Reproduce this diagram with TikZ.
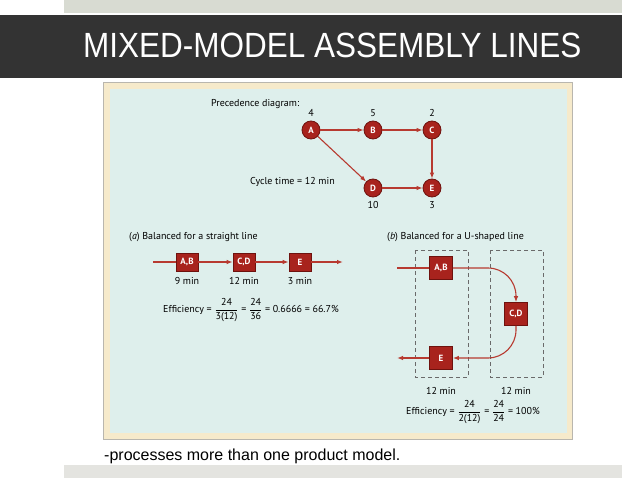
\documentclass[tikz,border=0pt]{standalone}
\usepackage{amsmath}
\usepackage{fontspec}
\setmainfont{Liberation Sans}
\newfontfamily\figfont{PT Sans}
\usetikzlibrary{arrows.meta,positioning}
\definecolor{bandgray}{HTML}{333333}
\definecolor{stripgray}{HTML}{D8DBD2}
\definecolor{footgray}{HTML}{E4E4E0}
\definecolor{panelbeige}{HTML}{F6EACB}
\definecolor{panelcyan}{HTML}{DEEFEC}
\definecolor{paneledge}{HTML}{B9B6AE}
\definecolor{taskred}{HTML}{A8231D}
\definecolor{taskdark}{HTML}{6E120E}
\definecolor{flowred}{HTML}{B73A30}
\definecolor{lanegray}{HTML}{6A6A6A}
\newcommand{\figtext}{\figfont\fontsize{10}{12}\selectfont}
\newcommand{\effrac}[2]{\ensuremath{\dfrac{\text{#1}}{\text{#2}}}}

\begin{document}
\begin{tikzpicture}[x=1pt,y=-1pt,>={Latex[length=6pt,width=4.5pt]},
  task/.style={circle,draw=taskdark,line width=0.8pt,fill=taskred,minimum size=18pt,
    inner sep=0pt,text=white,font=\figfont\bfseries\fontsize{9}{10}\selectfont},
  station/.style={rectangle,draw=taskdark,line width=0.6pt,fill=taskred,inner sep=0pt,
    text=white,font=\figfont\bfseries\fontsize{9}{10}\selectfont},
  flow/.style={draw=flowred,line width=1.1pt},
  txt/.style={font=\figtext,inner sep=0pt},
  lane/.style={draw=lanegray,dash pattern=on 4pt off 3pt,line width=0.6pt}]
  \useasboundingbox (0,0) rectangle (638,479);
  % slide frame
  \fill[stripgray] (64,0) rectangle (622,13);
  \fill[bandgray] (0,15) rectangle (622,78);
  \fill[footgray] (64,465) rectangle (622,478);
  \node[anchor=base west,inner sep=0pt,text=white,font=\fontsize{35}{40}\selectfont]
    (title) at (83,57) {\scalebox{0.9}[1]{MIXED-MODEL ASSEMBLY LINES}};
  % figure panel
  \filldraw[fill=panelbeige,draw=paneledge,line width=0.8pt] (103,82) rectangle (572,439);
  \fill[panelcyan] (110,89) rectangle (567,433);
  % precedence diagram
  \node[txt,anchor=west] (prec) at (211,104) {Precedence diagram:};
  \node[task] (A) at (311,130) {A};
  \node[task] (B) at (373,130) {B};
  \node[task] (C) at (432,130) {C};
  \node[task] (D) at (373,188) {D};
  \node[task] (E) at (432,188) {E};
  \node[txt,above=4pt of A] (tA) {4};
  \node[txt,above=4pt of B] (tB) {5};
  \node[txt,above=4pt of C] (tC) {2};
  \node[txt,below=4pt of D] (tD) {10};
  \node[txt,below=4pt of E] (tE) {3};
  \node[txt,anchor=west] (cycle) at (250,182) {Cycle time = 12 min};
  \draw[flow,->] (A) -- (B);
  \draw[flow,->] (B) -- (C);
  \draw[flow,->] (A) -- (D);
  \draw[flow,->] (C) -- (E);
  \draw[flow,->] (D) -- (E);
  % (a) straight line
  \node[txt,anchor=west] (capa) at (129,237) {(\textit{a}) Balanced for a straight line};
  \coordinate (ain) at (153,262);
  \coordinate (aout) at (343,262);
  \node[station,minimum width=22pt,minimum height=18pt] (sAB) at (187,262) {A,B};
  \node[station,minimum width=22pt,minimum height=18pt] (sCD) at (244,262) {C,D};
  \node[station,minimum width=22pt,minimum height=18pt] (sE) at (300,262) {E};
  \node[txt,below=6pt of sAB] (lAB) {9 min};
  \node[txt,below=6pt of sCD] (lCD) {12 min};
  \node[txt,below=6pt of sE] (lE) {3 min};
  \draw[flow] (ain) -- (sAB);
  \draw[flow,->] (sAB) -- (sCD);
  \draw[flow,->] (sCD) -- (sE);
  \draw[flow,->] (sE) -- (aout);
  \node[txt] (effa) at (251,310)
    {Efficiency = \effrac{24}{3(12)} = \effrac{24}{36} = 0.6666 = 66.7\%};
  % (b) U-shaped line
  \node[txt,anchor=west] (capb) at (387,237) {(\textit{b}) Balanced for a U-shaped line};
  \draw[lane] (415,250) rectangle (468,377);
  \draw[lane] (490,250) rectangle (543,377);
  \coordinate (bin) at (397,268);
  \coordinate (bout) at (397,358);
  \node[station,minimum size=23pt] (uAB) at (441,268) {A,B};
  \node[station,minimum size=23pt] (uCD) at (516,314) {C,D};
  \node[station,minimum size=23pt] (uE) at (441,358) {E};
  \draw[flow] (bin) -- (uAB);
  \draw[flow,->,rounded corners=28pt] (uAB.east) -| (uCD.north);
  \draw[flow,->,rounded corners=28pt] (uCD.south) |- (uE.east);
  \draw[flow,->] (uE) -- (bout);
  \node[txt] (lane1) at (441,391) {12 min};
  \node[txt] (lane2) at (516,391) {12 min};
  \node[txt] (effb) at (473,412)
    {Efficiency = \effrac{24}{2(12)} = \effrac{24}{24} = 100\%};
  % slide text
  \node[anchor=base west,inner sep=0pt,font=\fontsize{16}{19}\selectfont] (note) at (104,460)
    {-processes more than one product model.};
\end{tikzpicture}
\end{document}
